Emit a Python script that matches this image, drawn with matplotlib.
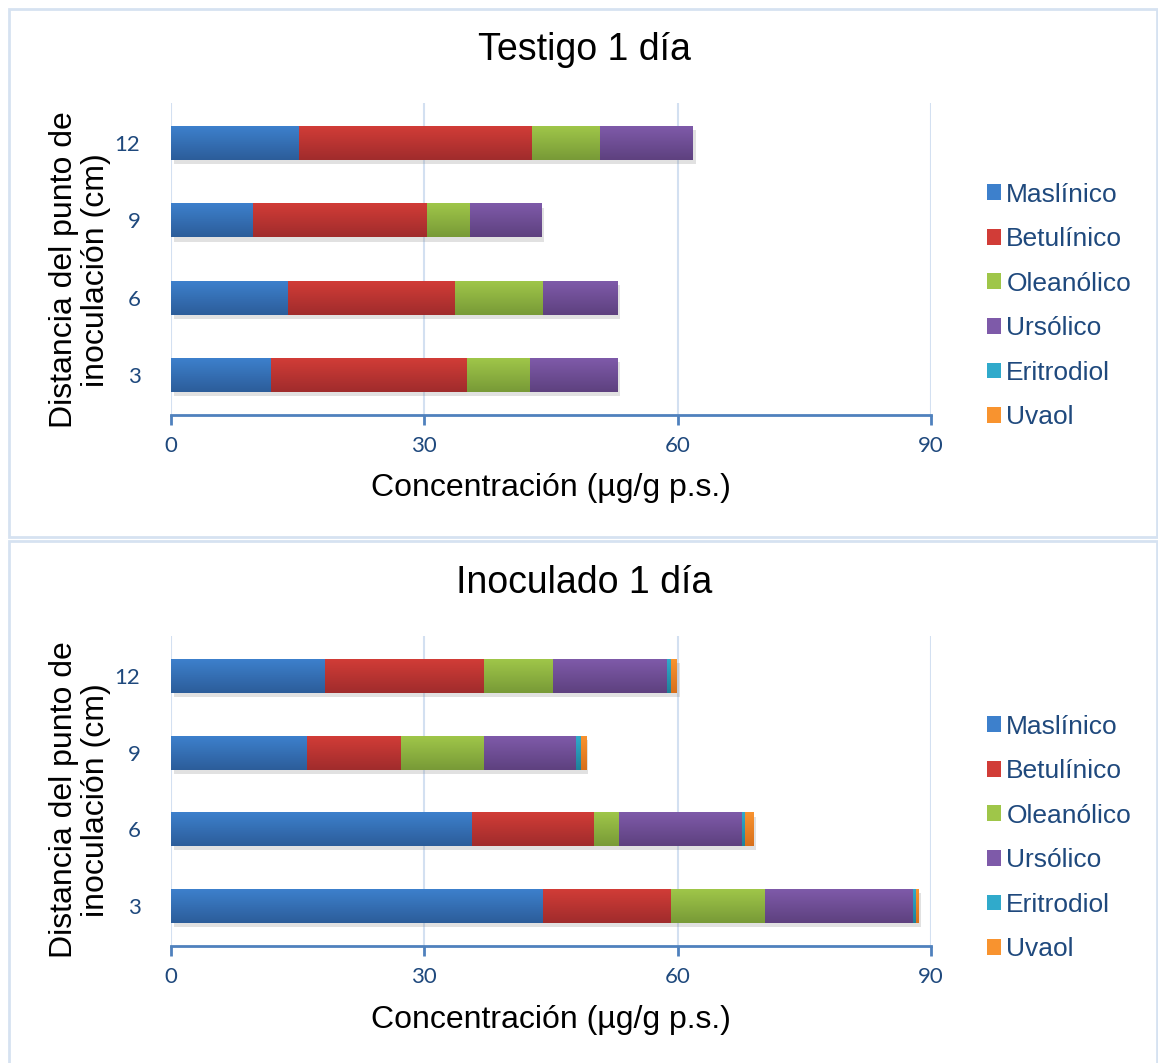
import numpy as np
import matplotlib
matplotlib.use('Agg')
import matplotlib.pyplot as plt
from matplotlib.patches import Rectangle, Patch
from matplotlib.colors import LinearSegmentedColormap
import matplotlib.patheffects as pe

plt.rcParams['font.family'] = ['Liberation Sans', 'DejaVu Sans']

# data
distancias = ['3', '6', '9', '12']
compuestos = ['Maslínico', 'Betulínico', 'Oleanólico', 'Ursólico', 'Eritrodiol', 'Uvaol']

testigo_maslinico = [11.8, 13.9, 9.7, 15.2]
testigo_betulinico = [23.3, 19.7, 20.6, 27.5]
testigo_oleanolico = [7.4, 10.4, 5.1, 8.1]
testigo_ursolico = [10.4, 8.8, 8.5, 11.0]
testigo_eritrodiol = [0, 0, 0, 0]
testigo_uvaol = [0, 0, 0, 0]

inoc_maslinico = [44.0, 35.6, 16.1, 18.2]
inoc_betulinico = [15.2, 14.5, 11.1, 18.9]
inoc_oleanolico = [11.1, 3.0, 9.9, 8.1]
inoc_ursolico = [17.6, 14.5, 10.9, 13.5]
inoc_eritrodiol = [0.3, 0.4, 0.5, 0.5]
inoc_uvaol = [0.3, 1.0, 0.6, 0.7]

# top / bottom colours of the gradient fill
grad = [('#3d80cc', '#2c5d9a'),
        ('#d13c37', '#a02c2c'),
        ('#9fc649', '#789a37'),
        ('#7e5aa9', '#5e417f'),
        ('#30aacb', '#1f8199'),
        ('#f8932f', '#d8701c')]

tick_col = '#1f497d'
axis_col = '#4f81bd'
grid_col = '#d3e0f1'

W, H = 1158, 1063
fig = plt.figure(figsize=(W / 100, H / 100), dpi=100)


def fx(px):
    return px / W


def fy(py):
    return 1 - py / H


# panel frames
fig.add_artist(Rectangle((fx(9), fy(537)), fx(1148), (537 - 9) / H, transform=fig.transFigure,
                         fill=False, ec='#d6e2f1', lw=2))
fig.add_artist(Rectangle((fx(9), fy(1068)), fx(1148), (1068 - 541) / H, transform=fig.transFigure,
                         fill=False, ec='#d6e2f1', lw=2))


def draw_panel(ax, series, title, y_title, y_xlabel, y_ylabel, y_legend):
    y = np.arange(len(distancias))
    left = np.zeros(len(distancias))
    for vals, (c1, c2) in zip(series, grad):
        bars = ax.barh(y, vals, left=left, height=0.44, color=c1, lw=0, zorder=3)
        cmap = LinearSegmentedColormap.from_list('g', [c2, c1])
        for b in bars:
            if b.get_width() <= 0:
                continue
            b.set_path_effects([pe.SimplePatchShadow(offset=(2, -3), shadow_rgbFace='#8a8a8a', alpha=0.25),
                                pe.Normal()])
            x0, y0 = b.get_x(), b.get_y()
            im = ax.imshow(np.linspace(0, 1, 50).reshape(-1, 1), cmap=cmap, aspect='auto',
                           extent=(x0, x0 + b.get_width(), y0, y0 + b.get_height()),
                           origin='lower', zorder=4, interpolation='bilinear')
            im.set_clip_path(b)
        left = left + np.array(vals)

    ax.set_xlim(0, 90)
    ax.set_ylim(-0.52, 3.52)
    ax.set_xticks([0, 30, 60, 90])
    ax.set_yticks(y)
    ax.set_yticklabels(distancias)
    ax.grid(axis='x', color=grid_col, lw=1.5, zorder=0)
    for s in ['top', 'right', 'left']:
        ax.spines[s].set_visible(False)
    ax.spines['bottom'].set_color(axis_col)
    ax.spines['bottom'].set_linewidth(2)
    ax.tick_params(axis='x', direction='out', length=7, width=2, color=axis_col,
                   labelcolor=tick_col, labelsize=16, pad=8)
    ax.tick_params(axis='y', length=0, labelcolor=tick_col, labelsize=16, pad=22)
    for lab in ax.get_xticklabels() + ax.get_yticklabels():
        lab.set_family(['Lato', 'DejaVu Sans'])

    fig.text(fx(584), fy(y_title), title, ha='center', va='center', fontsize=27)
    fig.text(fx(551), fy(y_xlabel), 'Concentración (µg/g p.s.)', ha='center', va='center', fontsize=23)
    fig.text(fx(80), fy(y_ylabel), 'Distancia del punto de\ninoculación (cm)', ha='center', va='center',
             rotation=90, fontsize=23, linespacing=1.05)

    handles = [Patch(facecolor=c1, edgecolor='none', label=n) for n, (c1, c2) in zip(compuestos, grad)]
    leg = fig.legend(handles=handles, loc='center left', bbox_to_anchor=(fx(976), fy(y_legend)),
                     frameon=False, fontsize=19, handlelength=0.55, handleheight=0.55,
                     handletextpad=0.2, labelspacing=0.78, borderaxespad=0)
    for t in leg.get_texts():
        t.set_color(tick_col)


ax1 = fig.add_axes([fx(171), fy(415), fx(931 - 171), (415 - 103) / H])
draw_panel(ax1, [testigo_maslinico, testigo_betulinico, testigo_oleanolico, testigo_ursolico,
                 testigo_eritrodiol, testigo_uvaol],
           'Testigo 1 día', 50, 488, 270, 306)

ax2 = fig.add_axes([fx(171), fy(946), fx(931 - 171), (946 - 636) / H])
draw_panel(ax2, [inoc_maslinico, inoc_betulinico, inoc_oleanolico, inoc_ursolico,
                 inoc_eritrodiol, inoc_uvaol],
           'Inoculado 1 día', 583, 1020, 800, 838)

fig.savefig('out.png', dpi=100)
